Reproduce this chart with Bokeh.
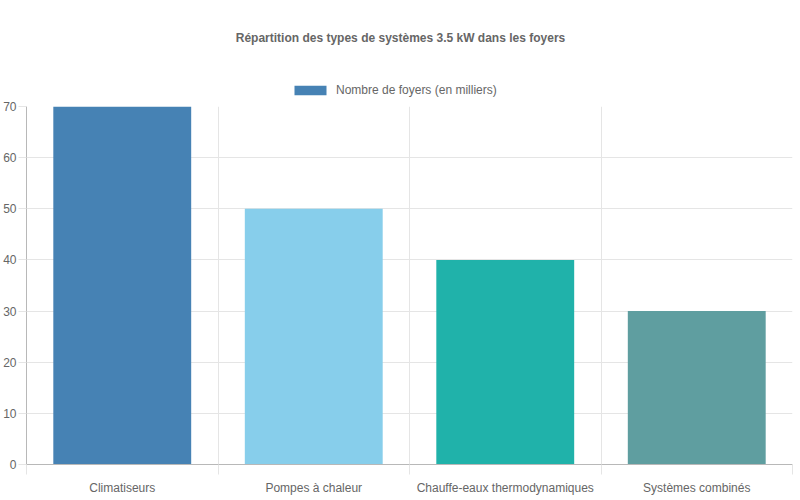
from bokeh.plotting import figure
from bokeh.layouts import column
from bokeh.models import (ColumnDataSource, Range1d, LinearAxis, FixedTicker, Grid,
                          Legend, LegendItem, CustomJSTickFormatter, Label)
from bokeh.embed import file_html
from bokeh.resources import INLINE

# data
categories = ["Climatiseurs", "Pompes à chaleur", "Chauffe-eaux thermodynamiques", "Systèmes combinés"]
foyers = [70, 50, 40, 30]
bar_colors = ["#4682B4", "#87CEEB", "#20B2AA", "#5F9EA0"]
y_ticks = [0, 10, 20, 30, 40, 50, 60, 70]
series_label = "Nombre de foyers (en milliers)"
title_text = "Répartition des types de systèmes 3.5 kW dans les foyers"

FONT = "Liberation Sans"
GREY = "#666666"
GRID = "#e5e5e5"
AXIS = "#b8b8b8"

HEAD_H = 98

# category slots on a numeric axis: centres for bars/labels, edges for ticks/grid
n = len(categories)
centres = [i + 0.5 for i in range(n)]
edges = list(range(n + 1))

src = ColumnDataSource(dict(x=centres, val=foyers, color=bar_colors))

# ---- header: title + legend (the legend can't sit in a side panel here)
head = figure(width=784, height=HEAD_H, x_range=Range1d(0, n), y_range=Range1d(100, 101),
              output_backend="svg", toolbar_location=None, title_location=None,
              x_axis_location=None, y_axis_location=None, min_border=0)
head.outline_line_color = None
head.xgrid.visible = False
head.ygrid.visible = False
# same bars, kept out of the header's view, only used for the legend swatch
hr = head.vbar(x="x", top="val", width=0.72, source=src, fill_color="color", line_color=None)

head.add_layout(Label(x=374, y=HEAD_H - 37, x_units="screen", y_units="screen", text=title_text,
                      text_align="center", text_baseline="middle", text_font=FONT,
                      text_font_size="12px", text_font_style="bold", text_color=GREY))

legend = Legend(items=[LegendItem(label=series_label, renderers=[hr], index=0)],
                orientation="horizontal", location=(264, 1),
                glyph_width=40, glyph_height=12,
                padding=0, margin=0, spacing=0, label_standoff=6,
                border_line_color=None, background_fill_alpha=0,
                label_text_font=FONT, label_text_font_size="12px", label_text_color=GREY)
head.add_layout(legend, "center")

# ---- main chart
p = figure(frame_width=766, frame_height=358, x_range=Range1d(0, n), y_range=Range1d(0, 70),
           output_backend="svg", toolbar_location=None, title_location=None, x_axis_location=None,
           min_border_top=8, min_border_right=1, min_border_left=0, min_border_bottom=0)
p.outline_line_color = None
p.background_fill_color = "white"
p.border_fill_color = "white"

r = p.vbar(x="x", top="val", width=0.72, source=src, fill_color="color", line_color=None)

# x axis: tick marks between categories, then the labels
tick_axis = LinearAxis(ticker=FixedTicker(ticks=edges),
                       formatter=CustomJSTickFormatter(code="return ''"),
                       major_label_text_font_size="1px", major_label_standoff=0,
                       major_tick_out=10, major_tick_in=0, major_tick_line_color=GRID,
                       minor_tick_line_color=None, axis_line_color=AXIS)
label_axis = LinearAxis(ticker=FixedTicker(ticks=centres),
                        major_label_overrides={c: lab for c, lab in zip(centres, categories)},
                        major_tick_line_color=None, minor_tick_line_color=None,
                        axis_line_color=None, major_label_standoff=0,
                        major_label_text_font=FONT, major_label_text_font_size="12px",
                        major_label_text_color=GREY)
p.add_layout(tick_axis, "below")
p.add_layout(label_axis, "below")

# y axis
p.yaxis.ticker = FixedTicker(ticks=y_ticks)
p.yaxis.major_tick_out = 8
p.yaxis.major_tick_in = 0
p.yaxis.major_tick_line_color = GRID
p.yaxis.minor_tick_line_color = None
p.yaxis.axis_line_color = AXIS
p.yaxis.major_label_standoff = 2
p.yaxis.major_label_text_font = FONT
p.yaxis.major_label_text_font_size = "12px"
p.yaxis.major_label_text_color = GREY

# grids
p.xgrid.visible = False
p.ygrid.grid_line_color = GRID
p.add_layout(Grid(dimension=0, ticker=FixedTicker(ticks=edges), grid_line_color=GRID))

layout = column(head, p, spacing=0)
open("out.html", "w").write(file_html(layout, INLINE))
